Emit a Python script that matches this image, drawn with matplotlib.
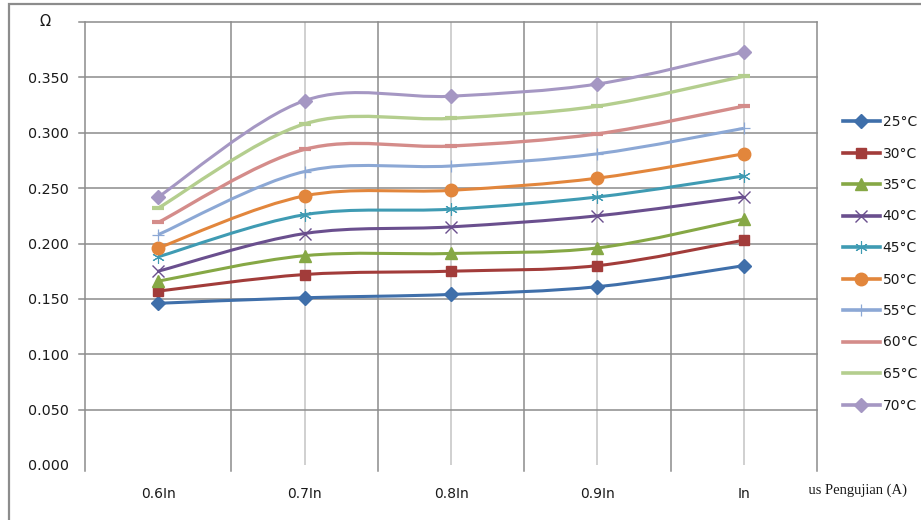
import matplotlib
matplotlib.use("Agg")
import matplotlib.pyplot as plt
import numpy as np
from matplotlib.path import Path
from matplotlib.patches import PathPatch, Rectangle
from matplotlib.lines import Line2D
from matplotlib.transforms import Bbox

plt.rcParams['font.family'] = ['DejaVu Sans']

# Test current levels (x axis) and resistance per temperature (ohm)
categories = ["0.6In", "0.7In", "0.8In", "0.9In", "In"]
series_labels = ["25°C", "30°C", "35°C", "40°C", "45°C",
                 "50°C", "55°C", "60°C", "65°C", "70°C"]
r_25 = [0.146, 0.151, 0.154, 0.161, 0.180]
r_30 = [0.157, 0.172, 0.175, 0.180, 0.203]
r_35 = [0.166, 0.189, 0.191, 0.196, 0.222]
r_40 = [0.175, 0.209, 0.215, 0.225, 0.242]
r_45 = [0.188, 0.226, 0.231, 0.242, 0.261]
r_50 = [0.196, 0.243, 0.248, 0.259, 0.281]
r_55 = [0.208, 0.265, 0.270, 0.281, 0.304]
r_60 = [0.219, 0.285, 0.288, 0.299, 0.324]
r_65 = [0.232, 0.308, 0.313, 0.324, 0.351]
r_70 = [0.242, 0.329, 0.333, 0.344, 0.373]
y_ticks = [0.000, 0.050, 0.100, 0.150, 0.200, 0.250, 0.300, 0.350]
y_tick_labels = ["0.000", "0.050", "0.100", "0.150", "0.200",
                 "0.250", "0.300", "0.350"]

all_series = [r_25, r_30, r_35, r_40, r_45, r_50, r_55, r_60, r_65, r_70]
colors = ["#3F6FAA", "#A23C3A", "#86A845", "#6A4F8E", "#3F9BB3",
          "#E2863C", "#8CA8D5", "#D48C8A", "#B4CE8E", "#A597C3"]
markers = ["D", "s", "^", "x", (6, 2, 0), "o", "+", "_", "_", "D"]
msizes = [7, 7.5, 8, 8, 9, 9, 8, 8, 8, 7]
mews = [1, 1, 1, 1, 0.8, 1, 0.9, 3.0, 3.0, 1]
lws = [2.2, 2.2, 2.2, 2.2, 2.2, 2.2, 2.2, 2.4, 2.4, 2.2]

W, H = 921, 520
fig = plt.figure(figsize=(W / 100, H / 100), dpi=100)
ax_l, ax_r, ax_t, ax_b = 85, 817, 22, 465
ax = fig.add_axes([ax_l / W, (H - ax_b) / H, (ax_r - ax_l) / W, (ax_b - ax_t) / H])
ax.set_xlim(-0.5, len(categories) - 0.5)
ax.set_ylim(0, 0.4)
for s in ax.spines.values():
    s.set_visible(False)
ax.patch.set_alpha(0)

grid_dark = "#8c8c8c"
grid_light = "#c4c4c4"
px_y = 1.0 / (ax_b - ax_t)
px_x = 1.0 / (ax_r - ax_l)

# horizontal grid with short outward stubs on the left
for v in np.arange(0.05, 0.4001, 0.05):
    ax.axhline(v, xmin=-6 * px_x, xmax=1, color=grid_dark, lw=1.1,
               clip_on=False, zorder=0.5)
# category boundaries (dark) extending below the plot
for b in np.arange(-0.5, len(categories), 1.0):
    ax.axvline(b, ymin=-6 * px_y, ymax=1, color=grid_dark, lw=1.1,
               clip_on=False, zorder=0.5)
# lighter lines at the category centres
for c in range(1, len(categories)):
    ax.axvline(c, ymin=0, ymax=1, color=grid_light, lw=1.1, zorder=0.4)

ax.set_xticks(range(len(categories)))
ax.set_xticklabels(categories, fontsize=10, color="#1a1a1a")
ax.set_yticks(y_ticks)
ax.set_yticklabels(y_tick_labels, fontsize=10.3, color="#1a1a1a")
ax.tick_params(axis="both", length=0)
ax.tick_params(axis="x", pad=16)
ax.tick_params(axis="y", pad=11.5)

fig.text(45 / W, 1 - 22 / H, "Ω", fontsize=10.5, ha="center", va="center",
         color="#1a1a1a")


def smooth_path(xs, ys):
    pts = np.column_stack([xs, ys]).astype(float)
    n = len(pts)
    verts = [pts[0]]
    codes = [Path.MOVETO]
    for i in range(n - 1):
        p0 = pts[max(i - 1, 0)]
        p1 = pts[i]
        p2 = pts[i + 1]
        p3 = pts[min(i + 2, n - 1)]
        c1 = p1 + (p2 - p0) / 6.0
        c2 = p2 - (p3 - p1) / 6.0
        verts += [c1, c2, p2]
        codes += [Path.CURVE4] * 3
    return Path(np.array(verts), codes)


xs = np.arange(len(categories))
handles = []
for vals, col, mk, ms, mew, lw, lab in zip(all_series, colors, markers, msizes,
                                           mews, lws, series_labels):
    patch = PathPatch(smooth_path(xs, vals), fill=False, edgecolor=col, lw=lw,
                      capstyle="butt", zorder=2)
    ax.add_patch(patch)
    ax.plot(xs, vals, linestyle="none", marker=mk, markersize=ms,
            color=col, markeredgecolor=col, markeredgewidth=mew, zorder=3)
    show_mk = mk if mk != "_" else None
    handles.append(Line2D([0], [0], color=col, lw=2.6, marker=show_mk,
                          markersize=ms, markeredgewidth=mew,
                          markeredgecolor=col, markerfacecolor=col, label=lab))

leg = fig.legend(handles=handles, loc="upper left",
                 bbox_to_anchor=(843 / W, 1 - 115 / H), frameon=False,
                 fontsize=10, handlelength=2.65, handletextpad=0.2,
                 labelspacing=1.26, borderpad=0, borderaxespad=0)
for t in leg.get_texts():
    t.set_color("#1a1a1a")

# x axis title, cut off on the left by the plot frame
xt = fig.text(907 / W, 1 - 490 / H, "Arus Pengujian (A)",
              family="Liberation Serif", fontsize=10.5, ha="right", va="center",
              color="#1a1a1a")
xt.set_clip_box(Bbox.from_extents(809, 0, W, H))

# outer chart frame
fig.patches.append(Rectangle((9 / W, -0.1), 1.2, 1.1 - 4 / H,
                             transform=fig.transFigure, fill=False,
                             edgecolor="#8c8c8c", lw=1.6))

fig.savefig("out.png", dpi=100)
